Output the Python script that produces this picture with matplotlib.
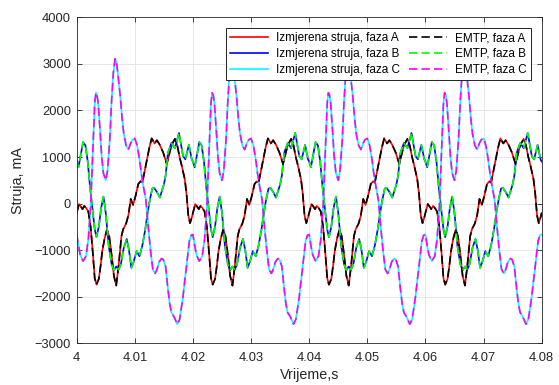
import numpy as np
import matplotlib
matplotlib.use("Agg")
import matplotlib.pyplot as plt

# One 50 Hz cycle (20 ms) for each phase; the record
# repeats practically unchanged for the four cycles shown (4.00 - 4.08 s).
cycle_ms = 20.0
n_cycles = 4
t_start = 4.0

a_ms = [0.0, 0.4, 0.7, 1.0, 1.3, 1.6, 2.0, 2.4, 2.8, 3.1, 3.4, 3.8, 4.1, 4.4,
        4.8, 5.2, 5.6, 6.0, 6.4, 6.8, 7.2, 7.7, 8.0, 8.5, 8.9, 9.3, 9.7, 10.1,
        10.6, 11.0, 11.3, 11.7, 12.1, 12.5, 12.9, 13.4, 13.8, 14.3, 14.9, 15.5,
        15.9, 16.3, 16.9, 17.3, 17.7, 18.1, 18.6, 18.9, 19.2, 19.5, 19.8]
a_mA = [-200, -10, -60, -120, -50, -90, -170, -500, -1100, -1600, -1740, -1620,
        -1350, -1020, -750, -560, -700, -1100, -1550, -1760, -1350, -700, -550,
        -430, -250, 100, -30, 150, 420, 480, 450, 700, 940, 1200, 1400, 1290,
        1360, 1260, 1090, 850, 1050, 1250, 1390, 1250, 1000, 800, 520, 200,
        -250, -420, -300]

b_ms = [0.0, 0.3, 0.7, 1.1, 1.5, 1.9, 2.3, 2.7, 3.1, 3.4, 3.8, 4.2, 4.6, 5.0,
        5.5, 6.0, 6.4, 6.8, 7.2, 7.6, 8.1, 8.6, 9.0, 9.4, 9.8, 10.3, 10.8, 11.3,
        11.8, 12.2, 12.6, 13.0, 13.3, 13.8, 14.3, 15.0, 15.3, 15.7, 16.3, 16.9,
        17.6, 18.3, 18.7, 19.3, 19.8]
b_mA = [900, 780, 1050, 1320, 1250, 900, 350, -100, -550, -720, -500, -100, 150,
        -200, -900, -1300, -1430, -1350, -1420, -1300, -950, -760, -1000, -1380,
        -1250, -1020, -1130, -900, -550, -200, 90, 320, 340, 250, 130, 410, 600,
        1090, 1300, 1190, 1515, 1020, 950, 1260, 950]

c_ms = [0.0, 0.3, 0.6, 1.1, 1.6, 2.0, 2.4, 2.7, 2.9, 3.1, 3.3, 3.5, 3.7, 4.0,
        4.3, 4.6, 5.0, 5.3, 5.7, 6.0, 6.3, 6.6, 6.9, 7.2, 7.5, 7.8, 8.1, 8.5,
        8.9, 9.3, 9.6, 10.0, 10.4, 10.8, 11.1, 11.5, 11.9, 12.3, 12.7, 13.1,
        13.5, 13.8, 14.2, 14.6, 14.9, 15.3, 15.7, 16.0, 16.3, 16.7, 17.0, 17.3,
        17.7, 18.0, 18.3, 18.6, 18.9, 19.2, 19.4, 19.7]
c_mA = [-664, -900, -1100, -1236, -1130, -770, -60, 900, 1600, 2150, 2380, 2330,
        2150, 1600, 1010, 650, 500, 700, 1380, 2200, 2800, 3110, 3000, 2650,
        2300, 1850, 1500, 1250, 1160, 1300, 1370, 1400, 1250, 950, 660, 350, 86,
        -486, -1000, -1414, -1500, -1420, -1250, -1180, -1200, -1350, -1840,
        -2150, -2340, -2420, -2500, -2590, -2490, -2250, -1990, -1650, -1340,
        -1000, -800, -680]

x_ticks = [4, 4.01, 4.02, 4.03, 4.04, 4.05, 4.06, 4.07, 4.08]
x_tick_labels = ["4", "4.01", "4.02", "4.03", "4.04", "4.05", "4.06", "4.07", "4.08"]
y_ticks = [-3000, -2000, -1000, 0, 1000, 2000, 3000, 4000]


def record(ms, vals):
    ms = np.asarray(ms)
    t = np.concatenate([ms + k * cycle_ms for k in range(n_cycles)] + [[n_cycles * cycle_ms]])
    v = np.concatenate([vals] * n_cycles + [[vals[0]]])
    return t_start + t / 1000.0, v


phases = [("A", a_ms, a_mA), ("B", b_ms, b_mA), ("C", c_ms, c_mA)]
meas_colors = {"A": "#ff0000", "B": "#0000ff", "C": "#00ffff"}
emtp_colors = {"A": "#000000", "B": "#00ff00", "C": "#ff00ff"}

plt.rcParams["font.family"] = ["Liberation Sans", "DejaVu Sans"]
text_col = "#262626"

fig = plt.figure(figsize=(5.59, 3.85), dpi=100)
ax = fig.add_axes([0.1372, 0.1083, 0.8318, 0.8468])

for ph, ms, vals in phases:
    t, v = record(ms, vals)
    ax.plot(t, v, color=meas_colors[ph], lw=1.2, label="Izmjerena struja, faza " + ph)
for ph, ms, vals in phases:
    t, v = record(ms, vals)
    ax.plot(t, v, color=emtp_colors[ph], lw=1.2, dashes=(5, 2.5), label="EMTP, faza " + ph)

ax.set_xlim(4, 4.08)
ax.set_ylim(-3000, 4000)
ax.set_xticks(x_ticks)
ax.set_xticklabels(x_tick_labels)
ax.set_yticks(y_ticks)
ax.grid(True, color="#e3e3e3", lw=0.6)
ax.set_axisbelow(True)
ax.tick_params(direction="in", top=True, right=True, length=3.5, width=0.6,
               labelsize=9.3, colors=text_col)
ax.tick_params(axis="x", pad=6)
ax.tick_params(axis="y", pad=4)
for s in ax.spines.values():
    s.set_color(text_col)
    s.set_linewidth(0.6)

ax.set_xlabel("Vrijeme,s", fontsize=10.3, color=text_col, labelpad=3)
ax.set_ylabel("Struja, mA", fontsize=10.3, color=text_col, labelpad=7)

leg = ax.legend(loc="upper right", ncol=2, fontsize=8.5, frameon=True, fancybox=False,
                framealpha=1, edgecolor="#000000", borderaxespad=0.9, borderpad=0.35,
                labelspacing=0.33, handlelength=3.2, handletextpad=0.7, columnspacing=0.75)
leg.get_frame().set_linewidth(0.6)

fig.savefig("out.png", dpi=100)
